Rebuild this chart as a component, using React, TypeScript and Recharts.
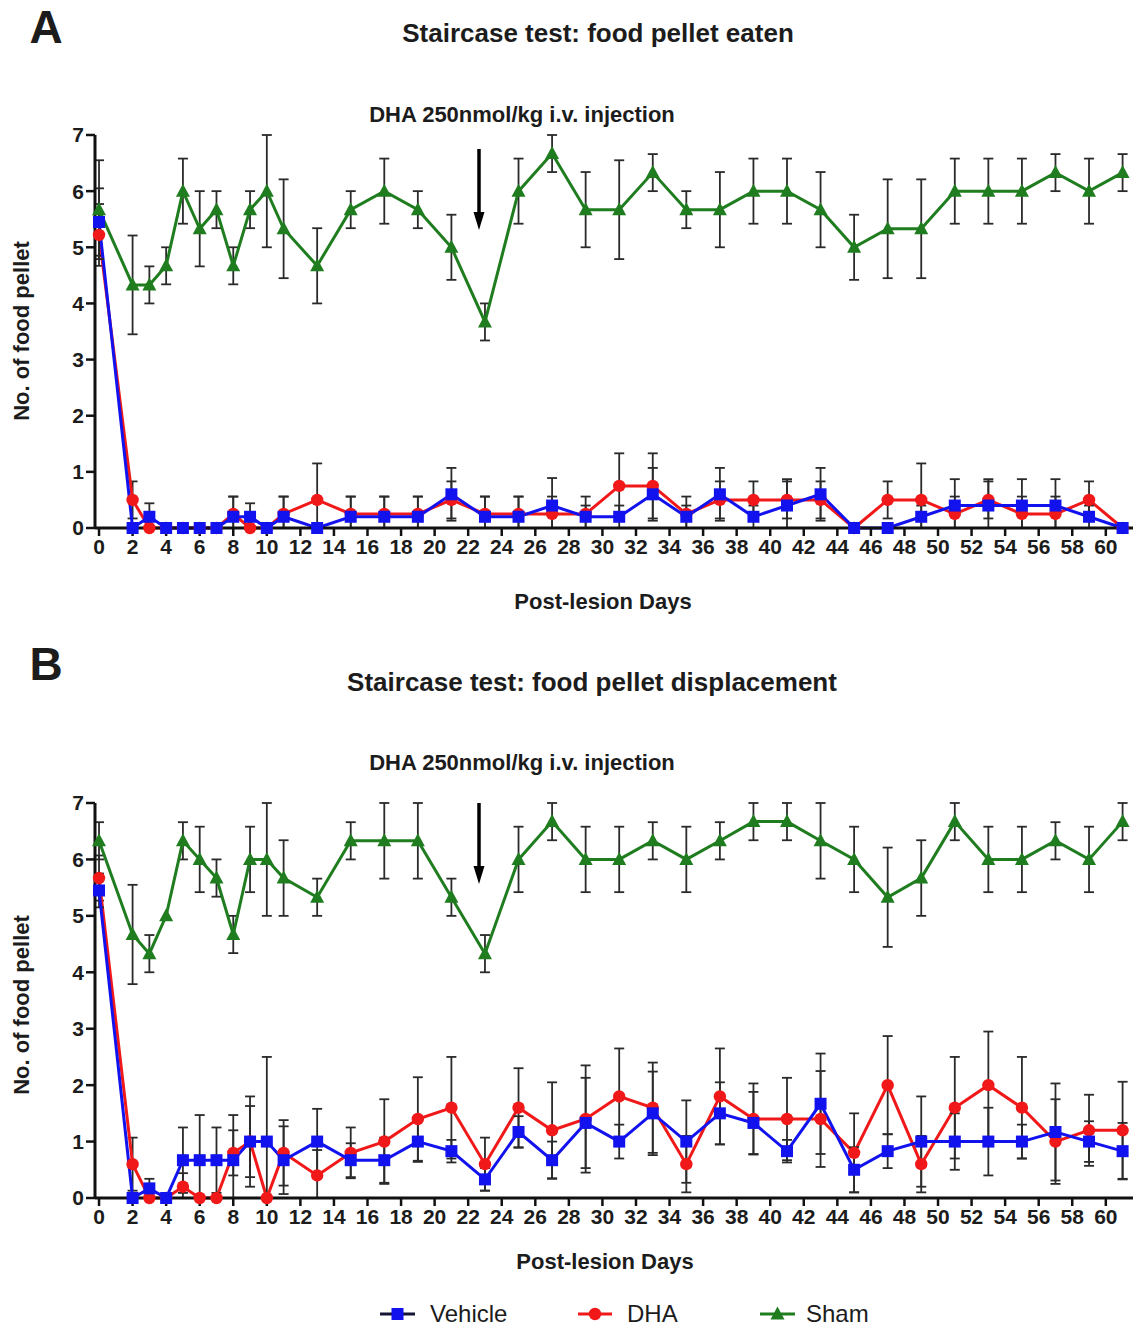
import React from "react";
import { ErrorBar, Line, LineChart, XAxis, YAxis } from "recharts";

// days on which the staircase test was scored
const days = [0, 2, 3, 4, 5, 6, 7, 8, 9, 10, 11, 13, 15, 17, 19, 21, 23, 25, 27, 29, 31, 33, 35, 37, 39, 41, 43, 45, 47, 49, 51, 53, 55, 57, 59, 61];
const xTicks = [0, 2, 4, 6, 8, 10, 12, 14, 16, 18, 20, 22, 24, 26, 28, 30, 32, 34, 36, 38, 40, 42, 44, 46, 48, 50, 52, 54, 56, 58, 60];
const yTicks = [0, 1, 2, 3, 4, 5, 6, 7];

// A: food pellet eaten
const eatenVehicle = [5.45, 0, 0.2, 0, 0, 0, 0, 0.2, 0.2, 0, 0.2, 0, 0.2, 0.2, 0.2, 0.6, 0.2, 0.2, 0.4, 0.2, 0.2, 0.6, 0.2, 0.6, 0.2, 0.4, 0.6, 0, 0, 0.2, 0.4, 0.4, 0.4, 0.4, 0.2, 0];
const eatenVehicleErr = [0.6, 0, 0.24, 0, 0, 0, 0, 0.36, 0.24, 0, 0.36, 0, 0.36, 0.36, 0.36, 0.47, 0.36, 0.36, 0.49, 0.2, 0.2, 0.47, 0.2, 0.47, 0.2, 0.47, 0.47, 0, 0, 0.2, 0.47, 0.47, 0.47, 0.47, 0.2, 0];
const eatenDha = [5.22, 0.5, 0, 0, 0, 0, 0, 0.25, 0, 0, 0.25, 0.5, 0.25, 0.25, 0.25, 0.5, 0.25, 0.25, 0.25, 0.25, 0.75, 0.75, 0.25, 0.5, 0.5, 0.5, 0.5, 0, 0.5, 0.5, 0.25, 0.5, 0.25, 0.25, 0.5, 0];
const eatenDhaErr = [0.55, 0.33, 0, 0, 0, 0, 0, 0.31, 0, 0, 0.31, 0.65, 0.31, 0.31, 0.31, 0.33, 0.31, 0.31, 0.31, 0.31, 0.58, 0.58, 0.31, 0.33, 0.33, 0.33, 0.33, 0, 0.33, 0.65, 0.31, 0.33, 0.31, 0.31, 0.33, 0];
const eatenSham = [5.67, 4.33, 4.33, 4.67, 6.0, 5.33, 5.67, 4.67, 5.67, 6.0, 5.33, 4.67, 5.67, 6.0, 5.67, 5.0, 3.67, 6.0, 6.67, 5.67, 5.67, 6.33, 5.67, 5.67, 6.0, 6.0, 5.67, 5.0, 5.33, 5.33, 6.0, 6.0, 6.0, 6.33, 6.0, 6.33];
const eatenShamErr = [0.88, 0.88, 0.33, 0.33, 0.58, 0.67, 0.33, 0.33, 0.33, 1.0, 0.88, 0.67, 0.33, 0.58, 0.33, 0.58, 0.33, 0.58, 0.33, 0.67, 0.88, 0.33, 0.33, 0.67, 0.58, 0.58, 0.67, 0.58, 0.88, 0.88, 0.58, 0.58, 0.58, 0.33, 0.58, 0.33];

// B: food pellet displacement
const dispVehicle = [5.45, 0, 0.17, 0, 0.67, 0.67, 0.67, 0.67, 1.0, 1.0, 0.67, 1.0, 0.67, 0.67, 1.0, 0.83, 0.33, 1.17, 0.67, 1.33, 1.0, 1.5, 1.0, 1.5, 1.33, 0.83, 1.67, 0.5, 0.83, 1.0, 1.0, 1.0, 1.0, 1.17, 1.0, 0.83];
const dispVehicleErr = [0.3, 0, 0.17, 0, 0.58, 0.8, 0.58, 0.8, 0.8, 1.5, 0.6, 0.58, 0.3, 0.4, 0.36, 0.2, 0.2, 0.28, 0.33, 0.8, 0.3, 0.74, 0.73, 0.55, 0.55, 0.2, 0.89, 0.4, 0.3, 0.8, 0.5, 0.6, 0.3, 0.86, 0.36, 0.5];
const dispDha = [5.67, 0.6, 0, 0, 0.2, 0, 0, 0.8, 1.0, 0, 0.8, 0.4, 0.8, 1.0, 1.4, 1.6, 0.6, 1.6, 1.2, 1.4, 1.8, 1.6, 0.6, 1.8, 1.4, 1.4, 1.4, 0.8, 2.0, 0.6, 1.6, 2.0, 1.6, 1.0, 1.2, 1.2];
const dispDhaErr = [0.4, 0.47, 0, 0, 0.24, 0, 0, 0.4, 0.63, 0, 0.58, 0.45, 0.45, 0.75, 0.74, 0.9, 0.47, 0.7, 0.85, 0.95, 0.85, 0.8, 0.5, 0.85, 0.63, 0.73, 0.85, 0.7, 0.87, 0.5, 0.9, 0.95, 0.9, 0.75, 0.63, 0.86];
const dispSham = [6.33, 4.67, 4.33, 5.0, 6.33, 6.0, 5.67, 4.67, 6.0, 6.0, 5.67, 5.33, 6.33, 6.33, 6.33, 5.33, 4.33, 6.0, 6.67, 6.0, 6.0, 6.33, 6.0, 6.33, 6.67, 6.67, 6.33, 6.0, 5.33, 5.67, 6.67, 6.0, 6.0, 6.33, 6.0, 6.67];
const dispShamErr = [0.33, 0.88, 0.33, 0, 0.33, 0.58, 0.33, 0.33, 0.58, 1.0, 0.67, 0.33, 0.33, 0.67, 0.67, 0.33, 0.33, 0.58, 0.33, 0.58, 0.58, 0.33, 0.58, 0.33, 0.33, 0.33, 0.67, 0.58, 0.88, 0.67, 0.33, 0.58, 0.58, 0.33, 0.58, 0.33];

const FONT = '"Liberation Sans", Arial, Helvetica, sans-serif';
const INK = "#1c1c1c";
const BLUE = "#1212ee";
const RED = "#f01818";
const GREEN = "#1f7d1f";

// error bar deltas, lower one clipped at the x axis; 0 means no bar
const err = (v: number, e: number) => (e ? [Math.min(e, v), e] : null);

function rows(veh: number[], vehE: number[], dha: number[], dhaE: number[], sham: number[], shamE: number[]) {
  return days.map((day, i) => ({
    day,
    vehicle: veh[i],
    vehicleErr: err(veh[i], vehE[i]),
    dha: dha[i],
    dhaErr: err(dha[i], dhaE[i]),
    sham: sham[i],
    shamErr: err(sham[i], shamE[i]),
  }));
}

const eatenRows = rows(eatenVehicle, eatenVehicleErr, eatenDha, eatenDhaErr, eatenSham, eatenShamErr);
const dispRows = rows(dispVehicle, dispVehicleErr, dispDha, dispDhaErr, dispSham, dispShamErr);

const Square = (p: any) =>
  p.cx == null ? null : <rect key={`s${p.index}`} x={p.cx - 6} y={p.cy - 6} width={12} height={12} fill={BLUE} />;
const Circle = (p: any) =>
  p.cx == null ? null : <circle key={`c${p.index}`} cx={p.cx} cy={p.cy} r={6.2} fill={RED} />;
const Triangle = (p: any) =>
  p.cx == null ? null : (
    <polygon
      key={`t${p.index}`}
      points={`${p.cx},${p.cy - 7.5} ${p.cx - 7},${p.cy + 5.5} ${p.cx + 7},${p.cy + 5.5}`}
      fill={GREEN}
    />
  );

const tickStyle = { fontSize: 21, fontWeight: 700, fill: INK, fontFamily: FONT };
const axisLine = { stroke: "#111", strokeWidth: 3 };
const tickLine = { stroke: "#111", strokeWidth: 2.5 };

function Panel({ data, top, height, marginTop }: { data: any[]; top: number; height: number; marginTop: number }) {
  const bar = { stroke: "#2a2a2a", strokeWidth: 1.8, width: 5 };
  return (
    <div style={{ position: "absolute", left: 0, top, width: 1133, height }}>
      <LineChart width={1133} height={height} data={data} margin={{ top: marginTop, right: 0, bottom: 12, left: 0 }}>
        <XAxis
          type="number"
          dataKey="day"
          domain={[-0.24, 61.62]}
          ticks={xTicks}
          interval={0}
          height={40}
          tick={tickStyle}
          tickSize={8}
          tickMargin={3}
          axisLine={axisLine}
          tickLine={tickLine}
        />
        <YAxis
          type="number"
          domain={[0, 7]}
          ticks={yTicks}
          interval={0}
          width={95}
          tick={tickStyle}
          tickSize={9}
          tickMargin={2}
          axisLine={axisLine}
          tickLine={tickLine}
        />
        <Line dataKey="dha" name="DHA" stroke={RED} strokeWidth={3} dot={Circle} activeDot={false} isAnimationActive={false}>
          <ErrorBar dataKey="dhaErr" direction="y" {...bar} />
        </Line>
        <Line dataKey="vehicle" name="Vehicle" stroke={BLUE} strokeWidth={3} dot={Square} activeDot={false} isAnimationActive={false}>
          <ErrorBar dataKey="vehicleErr" direction="y" {...bar} />
        </Line>
        <Line dataKey="sham" name="Sham" stroke={GREEN} strokeWidth={3} dot={Triangle} activeDot={false} isAnimationActive={false}>
          <ErrorBar dataKey="shamErr" direction="y" {...bar} />
        </Line>
      </LineChart>
    </div>
  );
}

function Text({ x, y, size, bold = true, rotate = false, children }: any) {
  return (
    <div
      style={{
        position: "absolute",
        left: x,
        top: y,
        transform: `translate(-50%, -50%)${rotate ? " rotate(-90deg)" : ""}`,
        fontFamily: FONT,
        fontSize: size,
        fontWeight: bold ? 700 : 400,
        color: INK,
        whiteSpace: "nowrap",
        lineHeight: 1,
      }}
    >
      {children}
    </div>
  );
}

function Arrow({ x, y1, y2 }: { x: number; y1: number; y2: number }) {
  return (
    <g>
      <line x1={x} y1={y1} x2={x} y2={y2 - 14} stroke="#000" strokeWidth={3.5} />
      <polygon points={`${x},${y2} ${x - 5.5},${y2 - 18} ${x + 5.5},${y2 - 18}`} fill="#000" />
    </g>
  );
}

export default function App() {
  return (
    <div style={{ position: "absolute", left: 0, top: 0, width: 1133, height: 1327, background: "#fff", overflow: "hidden" }}>
      <Panel data={eatenRows} top={0} height={580} marginTop={135} />
      <Panel data={dispRows} top={650} height={600} marginTop={153} />

      <Text x={46} y={27} size={46}>A</Text>
      <Text x={598} y={33} size={26}>Staircase test: food pellet eaten</Text>
      <Text x={522} y={115} size={22}>DHA 250nmol/kg i.v. injection</Text>
      <Text x={22} y={331} size={22} rotate>No. of food pellet</Text>
      <Text x={603} y={602} size={22}>Post-lesion Days</Text>

      <Text x={46} y={664} size={46}>B</Text>
      <Text x={592} y={682} size={26}>Staircase test: food pellet displacement</Text>
      <Text x={522} y={763} size={22}>DHA 250nmol/kg i.v. injection</Text>
      <Text x={22} y={1005} size={22} rotate>No. of food pellet</Text>
      <Text x={605} y={1262} size={22}>Post-lesion Days</Text>

      <svg width={1133} height={1327} style={{ position: "absolute", left: 0, top: 0, pointerEvents: "none" }}>
        <Arrow x={479} y1={149} y2={230} />
        <Arrow x={479} y1={803} y2={884} />
        <line x1={380} y1={1314} x2={415} y2={1314} stroke="#151535" strokeWidth={3} />
        <rect x={391.5} y={1308} width={12} height={12} fill={BLUE} />
        <line x1={578} y1={1314} x2={612} y2={1314} stroke={RED} strokeWidth={3} />
        <circle cx={595} cy={1314} r={6.2} fill={RED} />
        <line x1={760} y1={1314} x2={795} y2={1314} stroke={GREEN} strokeWidth={3} />
        <polygon points="777.5,1306.5 770.5,1319.5 784.5,1319.5" fill={GREEN} />
      </svg>
      <div style={{ position: "absolute", left: 430, top: 1314, transform: "translateY(-50%)", fontFamily: FONT, fontSize: 24, color: INK, lineHeight: 1 }}>Vehicle</div>
      <div style={{ position: "absolute", left: 627, top: 1314, transform: "translateY(-50%)", fontFamily: FONT, fontSize: 24, color: INK, lineHeight: 1 }}>DHA</div>
      <div style={{ position: "absolute", left: 806, top: 1314, transform: "translateY(-50%)", fontFamily: FONT, fontSize: 24, color: INK, lineHeight: 1 }}>Sham</div>
    </div>
  );
}
